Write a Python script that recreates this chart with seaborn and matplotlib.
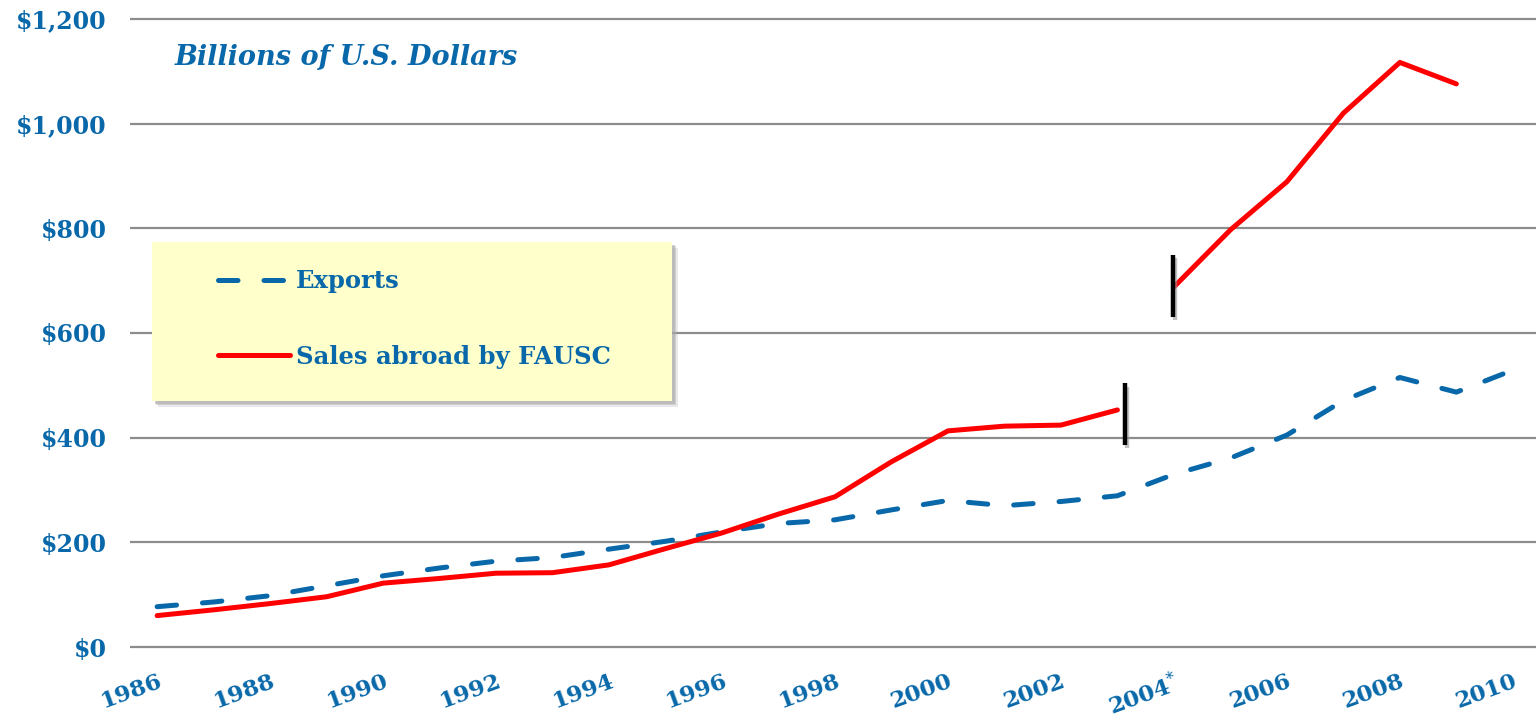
import matplotlib
matplotlib.use("Agg")
import matplotlib.pyplot as plt
import matplotlib.transforms as mtransforms
from matplotlib.lines import Line2D
from matplotlib.patches import Rectangle
import seaborn as sns
import pandas as pd

# ---------------- data ----------------
years = list(range(1986, 2011))
exports = [77, 86, 98, 117, 136, 151, 164, 171, 187, 202, 220, 236, 243,
           262, 280, 270, 278, 289, 330, 361, 405, 471, 515, 487, 529]

sales_years_a = list(range(1986, 2004))
sales_a = [60, 71, 83, 96, 122, 131, 141, 142, 157, 188, 218, 254, 287,
           354, 413, 422, 424, 453]
sales_years_b = list(range(2004, 2010))
sales_b = [688, 797, 889, 1020, 1117, 1076]

# series-break markers (x position, low, high)
break_x = [2003.13, 2003.98]
break_low = [386, 631]
break_high = [504, 749]

tick_years = list(range(1986, 2011, 2))
tick_labels = ["1986", "1988", "1990", "1992", "1994", "1996", "1998",
               "2000", "2002", "2004$^{*}$", "2006", "2008", "2010"]
y_ticks = [0, 200, 400, 600, 800, 1000, 1200]
y_labels = [r"\$0", r"\$200", r"\$400", r"\$600", r"\$800", r"\$1,000", r"\$1,200"]

title_text = "Billions of U.S. Dollars"
legend_labels = ["Exports", "Sales abroad by FAUSC"]

# ---------------- style ----------------
BLUE = "#0868A9"
RED = "#FF0000"
GRID = "#8C8C8C"

sns.set_theme(style="white")
plt.rcParams["font.family"] = ["DejaVu Serif", "DejaVu Sans"]
plt.rcParams["mathtext.fontset"] = "dejavuserif"

W, H = 1536, 723
fig = plt.figure(figsize=(W / 100, H / 100), dpi=100)

# axes placement (pixels): left 130, right 1536, y=0 at 647, y=1200 at 19
ymin, ymax = -4, 1204
ppu = (647 - 19) / 1200.0
top_px = 19 - (ymax - 1200) * ppu
bot_px = 647 + (0 - ymin) * ppu
ax = fig.add_axes([130 / W, 1 - bot_px / H, (W - 130) / W, (bot_px - top_px) / H])

df_exp = pd.DataFrame({"year": years, "value": exports})
df_sa = pd.DataFrame({"year": sales_years_a, "value": sales_a})
df_sb = pd.DataFrame({"year": sales_years_b, "value": sales_b})

LW = 3.6
sns.lineplot(data=df_exp, x="year", y="value", ax=ax, color=BLUE, lw=LW,
             linestyle=(0, (3.9, 5.2)), dash_capstyle="round", zorder=3,
             legend=False)
for d in (df_sa, df_sb):
    sns.lineplot(data=d, x="year", y="value", ax=ax, color=RED, lw=LW,
                 solid_capstyle="round", zorder=4, legend=False)

# break markers with a soft shadow
shadow_tr = ax.transData + mtransforms.ScaledTranslation(1.5 / 72, -2.5 / 72, fig.dpi_scale_trans)
ax.vlines(break_x, break_low, break_high, colors="#999999", lw=3.2,
          alpha=0.6, transform=shadow_tr, zorder=4.5)
ax.vlines(break_x, break_low, break_high, colors="black", lw=3.2, zorder=5)

ax.set_xlim(1985.52, 2010.41)
ax.set_ylim(ymin, ymax)
ax.set_xlabel("")
ax.set_ylabel("")

ax.set_yticks(y_ticks, y_labels)
ax.set_xticks(tick_years, tick_labels)
ax.tick_params(axis="y", length=0, pad=17, labelsize=17, labelcolor=BLUE)
ax.tick_params(axis="x", length=0, pad=15, labelsize=16.5, labelcolor=BLUE)
for lab in ax.get_yticklabels():
    lab.set_fontweight("bold")
for lab in ax.get_xticklabels():
    lab.set_fontweight("bold")
    lab.set_rotation(20)
    lab.set_ha("right")
    lab.set_rotation_mode("anchor")

ax.yaxis.grid(True, color=GRID, lw=1.6)
ax.xaxis.grid(False)
ax.set_axisbelow(True)
for s in ax.spines.values():
    s.set_visible(False)

# title inside plot
ax.text((175 - 130) / (W - 130), (bot_px - 58) / (bot_px - top_px), title_text,
        transform=ax.transAxes, ha="left", va="center", fontsize=19.5,
        fontweight="bold", fontstyle="italic", color=BLUE)

# legend box with shadow
bx0, by_top, bx1, by_bot = 152, 242, 672, 401
for k, a in ((6, 0.25), (4, 0.4), (2.5, 0.5)):
    ax.add_patch(Rectangle(((bx0 + k) / W, 1 - (by_bot + k) / H), (bx1 - bx0) / W,
                           (by_bot - by_top) / H, transform=fig.transFigure,
                           facecolor="#A8A8A8", edgecolor="none", alpha=a,
                           clip_on=False, zorder=6))
ax.add_patch(Rectangle((bx0 / W, 1 - by_bot / H), (bx1 - bx0) / W,
                       (by_bot - by_top) / H, transform=fig.transFigure,
                       facecolor="#FFFFCC", edgecolor="none",
                       clip_on=False, zorder=7))

handles = [
    Line2D([], [], color=BLUE, lw=LW, linestyle=(0, (3.9, 5.2)), dash_capstyle="round"),
    Line2D([], [], color=RED, lw=LW, solid_capstyle="round"),
]
leg = ax.legend(handles, legend_labels, loc="center left",
                bbox_to_anchor=(218 / W, 1 - 319 / H),
                bbox_transform=fig.transFigure, frameon=False,
                borderpad=0, borderaxespad=0, handlelength=2.95,
                handletextpad=0.25, labelspacing=2.1,
                prop={"family": "DejaVu Serif", "weight": "bold", "size": 17.5},
                labelcolor=BLUE)
leg.set_zorder(8)

fig.savefig("out.png", dpi=100)
